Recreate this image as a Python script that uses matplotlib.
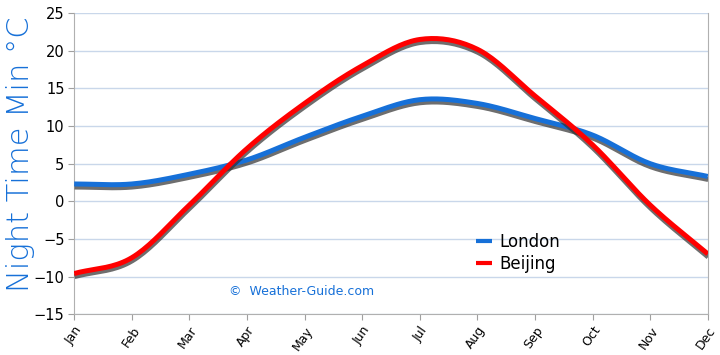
import numpy as np
import matplotlib
matplotlib.use("Agg")
import matplotlib.pyplot as plt
import matplotlib.patheffects as pe

months = ["Jan", "Feb", "Mar", "Apr", "May", "Jun",
          "Jul", "Aug", "Sep", "Oct", "Nov", "Dec"]
london = [2.3, 2.3, 3.6, 5.5, 8.5, 11.3, 13.5, 13.0, 11.0, 8.8, 5.0, 3.3]
beijing = [-9.6, -7.5, -0.5, 7.0, 13.0, 18.0, 21.5, 20.2, 14.0, 7.5, -0.5, -7.0]

BLUE = "#1670d8"
RED = "#ff0000"


def smooth(y, n=20):
    # Catmull-Rom style curve through the points, like Excel's smoothed line
    y = np.asarray(y, float)
    p = np.concatenate([[2 * y[0] - y[1]], y, [2 * y[-1] - y[-2]]])
    xs, ys = [], []
    for i in range(len(y) - 1):
        t = np.linspace(0, 1, n, endpoint=False)
        p0, p1, p2, p3 = p[i], p[i + 1], p[i + 2], p[i + 3]
        seg = 0.5 * ((2 * p1) + (-p0 + p2) * t
                     + (2 * p0 - 5 * p1 + 4 * p2 - p3) * t ** 2
                     + (-p0 + 3 * p1 - 3 * p2 + p3) * t ** 3)
        xs.append(i + t)
        ys.append(seg)
    xs.append([len(y) - 1])
    ys.append([y[-1]])
    return np.concatenate(xs), np.concatenate(ys)


fig = plt.figure(figsize=(7.2, 3.55), dpi=100)
ax = fig.add_axes([0.103, 0.115, 0.880, 0.848])

shadow = [pe.SimpleLineShadow(offset=(0.3, -2.2), shadow_color="#303030", alpha=0.7),
          pe.Normal()]

x = np.arange(len(months))
for vals, col, name in [(london, BLUE, "London"), (beijing, RED, "Beijing")]:
    sx, sy = smooth(vals)
    ax.plot(sx, sy, color=col, lw=3.6, solid_capstyle="butt",
            path_effects=shadow, label=name, zorder=3)

ax.set_xlim(0, 11)
ax.set_ylim(-15, 25)
ax.set_yticks(range(-15, 26, 5))
ax.set_xticks(x)
ax.set_xticklabels(months, rotation=55, ha="right", rotation_mode="anchor",
                   fontsize=9)
ax.tick_params(axis="y", labelsize=10.5, length=4, color="#a0a0a0", pad=3)
ax.tick_params(axis="x", length=4, color="#a0a0a0", pad=3)
ax.yaxis.grid(True, color="#c9d7ea", lw=1.0)
ax.set_axisbelow(True)
ax.spines["top"].set_visible(False)
for s in ["left", "bottom", "right"]:
    ax.spines[s].set_color("#b0b0b0")

ax.set_ylabel("Night Time Min °C", color=BLUE, fontsize=22, fontweight="light")
ax.yaxis.set_label_coords(-0.062, 0.53)

leg = ax.legend(loc="upper left", bbox_to_anchor=(0.61, 0.32), frameon=False,
                fontsize=12, handlelength=1.0, handletextpad=0.4,
                labelspacing=0.25)
for h in leg.legend_handles:
    h.set_path_effects([])
    h.set_linewidth(3)

ax.text(0.245, 0.065, "©  Weather-Guide.com", transform=ax.transAxes,
        color=BLUE, fontsize=9)

fig.savefig("out.png", dpi=100, facecolor="white")
